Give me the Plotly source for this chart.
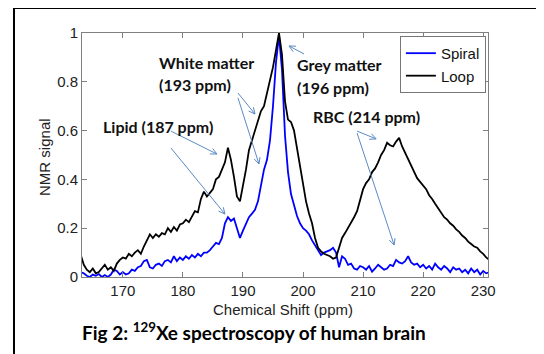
import math
import plotly.graph_objects as go

ppm = [163.0 + 0.5 * i for i in range(137)]

loop_signal = [
    0.09, 0.05, 0.03, 0.02, 0.035, 0.015, 0.02, 0.035, 0.05, 0.03,
    0.04, 0.025, 0.055, 0.07, 0.08, 0.075, 0.095, 0.085, 0.1, 0.11,
    0.095, 0.125, 0.15, 0.175, 0.16, 0.175, 0.165, 0.18, 0.175, 0.2,
    0.185, 0.205, 0.19, 0.215, 0.22, 0.235, 0.225, 0.25, 0.27, 0.265,
    0.32, 0.35, 0.33, 0.345, 0.36, 0.4, 0.41, 0.44, 0.47, 0.53,
    0.48, 0.41, 0.33, 0.31, 0.37, 0.44, 0.52, 0.56, 0.61, 0.65,
    0.68, 0.7, 0.75, 0.8, 0.86, 0.93, 1.0, 0.91, 0.72, 0.645,
    0.635, 0.6, 0.53, 0.45, 0.38, 0.31, 0.26, 0.22, 0.16, 0.12,
    0.105, 0.095, 0.09, 0.085, 0.075, 0.08, 0.12, 0.16, 0.18, 0.2,
    0.22, 0.245, 0.27, 0.31, 0.36, 0.385, 0.4, 0.43, 0.445, 0.47,
    0.5, 0.52, 0.55, 0.54, 0.535, 0.555, 0.57, 0.535, 0.51, 0.48,
    0.46, 0.43, 0.405, 0.39, 0.375, 0.36, 0.335, 0.32, 0.3, 0.28,
    0.265, 0.245, 0.235, 0.22, 0.21, 0.195, 0.185, 0.17, 0.16, 0.145,
    0.135, 0.125, 0.12, 0.105, 0.095, 0.08, 0.07,
]

spiral_signal = [
    0.02, 0.015, 0.005, 0.0, 0.01, 0.005, 0.012, 0.0, 0.008, 0.0,
    0.01, 0.03, 0.025, 0.01, 0.02, 0.01, 0.015, 0.03, 0.025, 0.04,
    0.045, 0.065, 0.07, 0.04, 0.035, 0.05, 0.055, 0.045, 0.065, 0.07,
    0.06, 0.085, 0.065, 0.08, 0.07, 0.085, 0.075, 0.09, 0.08, 0.095,
    0.085, 0.1, 0.1, 0.11, 0.125, 0.14, 0.135, 0.16, 0.22, 0.245,
    0.23, 0.24, 0.2, 0.16, 0.19, 0.22, 0.245, 0.26, 0.275, 0.31,
    0.37, 0.44, 0.48, 0.56, 0.7, 0.88, 0.99, 0.85, 0.58, 0.43,
    0.34, 0.29, 0.25, 0.22, 0.2, 0.19, 0.175, 0.15, 0.13, 0.11,
    0.09, 0.1, 0.105, 0.11, 0.12, 0.1, 0.04, 0.085, 0.075, 0.05,
    0.055, 0.035, 0.03, 0.045, 0.04, 0.03, 0.045, 0.022, 0.035, 0.05,
    0.04, 0.03, 0.035, 0.05, 0.045, 0.07, 0.06, 0.055, 0.065, 0.085,
    0.06, 0.05, 0.055, 0.04, 0.05, 0.035, 0.045, 0.03, 0.055, 0.04,
    0.03, 0.045, 0.035, 0.02, 0.04, 0.03, 0.035, 0.02, 0.03, 0.015,
    0.035, 0.02, 0.03, 0.01, 0.025, 0.015, 0.02,
]

x_ticks = [170, 180, 190, 200, 210, 220, 230]
y_ticks = [0, 0.2, 0.4, 0.6, 0.8, 1]
y_tick_labels = ["0", "0.2", "0.4", "0.6", "0.8", "1"]

# label texts with (ppm, signal) anchor
labels = [
    ("White matter", 175.67, 0.881),
    ("(193 ppm)", 175.67, 0.787),
    ("Lipid (187 ppm)", 166.33, 0.615),
    ("Grey matter", 198.67, 0.869),
    ("(196 ppm)", 198.67, 0.775),
    ("RBC (214 ppm)", 201.33, 0.656),
]

# arrows: (tail ppm, tail signal, head ppm, head signal)
arrows = [
    (189.17, 0.754, 192.0, 0.668),
    (189.17, 0.734, 192.67, 0.463),
    (178.0, 0.598, 185.67, 0.504),
    (178.0, 0.529, 187.0, 0.258),
    (200.17, 0.914, 197.67, 0.947),
    (209.0, 0.598, 212.17, 0.566),
    (209.0, 0.59, 215.17, 0.131),
]

X_RANGE = [163.2, 230.8]
Y_RANGE = [0, 1]
PLOT_W, PLOT_H = 406, 244
px_per_x = PLOT_W / (X_RANGE[1] - X_RANGE[0])
px_per_y = PLOT_H / (Y_RANGE[1] - Y_RANGE[0])
ARROW_COLOR = "#5b8ac6"

fig = go.Figure()
fig.add_trace(go.Scatter(x=ppm, y=spiral_signal, mode="lines", name="Spiral",
                         line=dict(color="#0000ff", width=1.8)))
fig.add_trace(go.Scatter(x=ppm, y=loop_signal, mode="lines", name="Loop",
                         line=dict(color="#000000", width=1.8)))

annotations = []
for text, xv, yv in labels:
    annotations.append(dict(x=xv, y=yv, xref="x", yref="y", text=text,
                            showarrow=False, xanchor="left", yanchor="middle",
                            font=dict(family="Lato", size=16, color="#111111",
                                      weight="bold")))

shapes = []
for tx, ty, hx, hy in arrows:
    shapes.append(dict(type="line", xref="x", yref="y", x0=tx, y0=ty, x1=hx, y1=hy,
                       line=dict(color=ARROW_COLOR, width=1)))
    # open arrowhead, built in pixel space then mapped back to data units
    dx = (tx - hx) * px_per_x
    dy = (ty - hy) * px_per_y
    d = math.hypot(dx, dy)
    ux, uy = dx / d, dy / d
    pts = []
    for ang in (0.45, -0.45):
        rx = ux * math.cos(ang) - uy * math.sin(ang)
        ry = ux * math.sin(ang) + uy * math.cos(ang)
        pts.append((hx + rx * 7 / px_per_x, hy + ry * 7 / px_per_y))
    path = "M %f %f L %f %f L %f %f" % (pts[0][0], pts[0][1], hx, hy, pts[1][0], pts[1][1])
    shapes.append(dict(type="path", xref="x", yref="y", path=path,
                       line=dict(color=ARROW_COLOR, width=1)))

shapes.append(dict(type="rect", xref="paper", yref="paper",
                   x0=-0.1675, x1=1.1207, y0=-0.40, y1=1.1025,
                   line=dict(color="black", width=2), layer="above"))

annotations.append(dict(x=0.496, y=-0.135, xref="paper", yref="paper",
                        text="Chemical Shift (ppm)", showarrow=False,
                        xanchor="center", yanchor="middle",
                        font=dict(family="Liberation Sans", size=15, color="#222222")))
annotations.append(dict(x=-0.0911, y=0.492, xref="paper", yref="paper",
                        text="NMR signal", showarrow=False, textangle=-90,
                        xanchor="center", yanchor="middle",
                        font=dict(family="Liberation Sans", size=15, color="#222222")))
annotations.append(dict(x=0.4236, y=-0.2254, xref="paper", yref="paper",
                        text="Fig 2: <sup>129</sup>Xe spectroscopy of human brain",
                        showarrow=False, xanchor="center", yanchor="middle",
                        font=dict(family="Lato", size=19, color="#000000",
                                  weight="bold")))

fig.update_layout(
    width=536, height=346,
    margin=dict(l=74, r=56, t=25, b=77),
    paper_bgcolor="white", plot_bgcolor="white",
    showlegend=True,
    legend=dict(x=0.783, y=0.988, xanchor="left", yanchor="top",
                bordercolor="#777777", borderwidth=1, bgcolor="white",
                font=dict(family="Liberation Sans", size=15, color="#111111"),
                itemwidth=30, tracegroupgap=0, entrywidth=48,
                entrywidthmode="pixels"),
    annotations=annotations,
    shapes=shapes,
)
fig.update_xaxes(range=X_RANGE, tickvals=x_ticks, showgrid=False,
                 zeroline=False, showline=True, linecolor="#808080", linewidth=1,
                 mirror="ticks", ticks="inside", ticklen=5, tickcolor="#808080",
                 tickfont=dict(family="Liberation Sans", size=15, color="#222222"))
fig.update_yaxes(range=Y_RANGE, tickvals=y_ticks, ticktext=y_tick_labels,
                 showgrid=False, zeroline=False, showline=True,
                 linecolor="#808080", linewidth=1, mirror="ticks",
                 ticks="inside", ticklen=5, tickcolor="#808080",
                 tickfont=dict(family="Liberation Sans", size=15, color="#222222"))

fig.write_html("out.html")
